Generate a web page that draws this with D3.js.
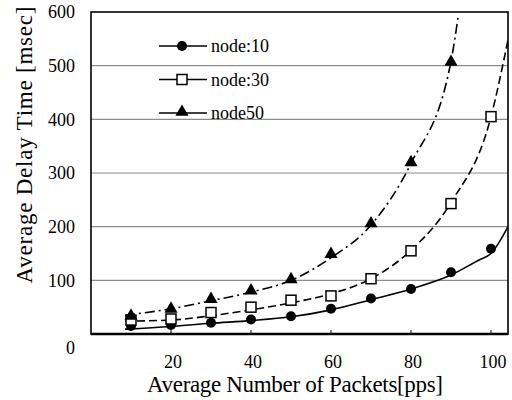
<!DOCTYPE html>
<html>
<head>
<meta charset="utf-8">
<script src="https://cdn.jsdelivr.net/npm/d3@7"></script>
<style>
  body { margin: 0; background: #fff; }
  svg text { font-family: "Liberation Serif", "Times New Roman", serif; fill: #000; }
</style>
</head>
<body>
<div id="chart"></div>
<script>
// Data
const packets = [10, 20, 30, 40, 50, 60, 70, 80, 90, 100];
const node10 = [15, 17, 21, 27, 33, 47, 66, 84, 115, 159];
const node30 = [26, 28, 40, 50, 63, 71, 103, 155, 243, 405];
const node50 = [32, 45, 63, 79, 100, 147, 204, 318, 505];

// Fitted curves drawn in the figure
const curve10X = [8.5, 20, 30, 40, 50, 60, 70, 80, 90, 97, 100, 104.25];
const curve10 = [9, 14, 20, 25, 32, 45, 64, 84, 110, 138, 150, 200];
const curve30X = [8.5, 20, 30, 40, 50, 60, 70, 80, 90, 100, 104.25];
const curve30 = [24, 26, 34, 45, 58, 75, 103, 156, 245, 405, 548];
const curve50X = [8.5, 20, 30, 40, 50, 60, 70, 80, 90, 91.8];
const curve50 = [35, 47, 62, 78, 100, 142, 203, 318, 508, 592];

const yTicks = [0, 100, 200, 300, 400, 500, 600];
const xTicks = [20, 40, 60, 80, 100];

const width = 512;
const height = 400;

const svg = d3.select("#chart")
    .append("svg")
    .attr("width", width)
    .attr("height", height);

const x = d3.scaleLinear().domain([0, 104.25]).range([91, 508]);
const y = d3.scaleLinear().domain([0, 600]).range([334, 12]);

// Grid lines
svg.append("g")
    .selectAll("line")
    .data(yTicks.filter(d => d > 0 && d < 600))
    .enter().append("line")
    .attr("x1", x.range()[0])
    .attr("x2", x.range()[1])
    .attr("y1", d => y(d))
    .attr("y2", d => y(d))
    .style("stroke", "#8c8c8c")
    .style("stroke-width", 1.2);

// Y tick labels
svg.append("g")
    .selectAll("text")
    .data(yTicks)
    .enter().append("text")
    .attr("x", 75)
    .attr("y", d => y(d) + (d === 0 ? 14 : 0))
    .attr("dy", "0.35em")
    .style("text-anchor", "end")
    .style("font-size", "18px")
    .text(d => d);

// X ticks (inside) and labels
svg.append("g")
    .selectAll("line")
    .data(xTicks)
    .enter().append("line")
    .attr("x1", d => x(d))
    .attr("x2", d => x(d))
    .attr("y1", y(0))
    .attr("y2", y(0) - 4)
    .style("stroke", "#000")
    .style("stroke-width", 1);

svg.append("g")
    .selectAll("text")
    .data(xTicks)
    .enter().append("text")
    .attr("x", d => x(d) + 2)
    .attr("y", 362)
    .attr("dy", "0.35em")
    .style("text-anchor", "middle")
    .style("font-size", "18px")
    .text(d => d);

// Axis titles
svg.append("text")
    .attr("x", 295)
    .attr("y", 392)
    .attr("textLength", 296)
    .attr("lengthAdjust", "spacing")
    .style("text-anchor", "middle")
    .style("font-size", "23px")
    .text("Average Number of Packets[pps]");

svg.append("text")
    .attr("transform", "translate(32, 145) rotate(-90)")
    .attr("textLength", 277)
    .attr("lengthAdjust", "spacing")
    .style("text-anchor", "middle")
    .style("font-size", "23px")
    .text("Average Delay Time [msec]");

// Curves
svg.append("clipPath").attr("id", "plot-clip")
    .append("rect")
    .attr("x", x.range()[0]).attr("y", y.range()[1])
    .attr("width", x.range()[1] - x.range()[0])
    .attr("height", y.range()[0] - y.range()[1]);

const line = d3.line()
    .x(d => x(d[0]))
    .y(d => y(d[1]))
    .curve(d3.curveMonotoneX);

const curves = [
    { xs: curve10X, ys: curve10, dash: null },
    { xs: curve30X, ys: curve30, dash: "8,4" },
    { xs: curve50X, ys: curve50, dash: "10,4,2,4" }
];

svg.append("g")
    .attr("clip-path", "url(#plot-clip)")
    .selectAll("path")
    .data(curves)
    .enter().append("path")
    .attr("d", d => line(d.xs.map((v, i) => [v, d.ys[i]])))
    .style("fill", "none")
    .style("stroke", "#000")
    .style("stroke-width", 1.6)
    .style("stroke-dasharray", d => d.dash);

// Markers
const triangle = d3.symbol().type(d3.symbolTriangle).size(75);

function drawMarker(sel, kind) {
    if (kind === "circle") {
        sel.append("circle").attr("r", 5).style("fill", "#000");
    } else if (kind === "square") {
        sel.append("rect")
            .attr("x", -5).attr("y", -5)
            .attr("width", 10).attr("height", 10)
            .style("fill", "#fff")
            .style("stroke", "#000")
            .style("stroke-width", 1.5);
    } else {
        sel.append("path").attr("d", triangle).attr("transform", "translate(0,-1)").style("fill", "#000");
    }
}

const series = [
    { label: "node:10", values: node10, kind: "circle" },
    { label: "node:30", values: node30, kind: "square" },
    { label: "node50", values: node50, kind: "triangle" }
];

series.forEach(s => {
    const g = svg.append("g")
        .selectAll("g")
        .data(s.values)
        .enter().append("g")
        .attr("transform", (d, i) => `translate(${x(packets[i])}, ${y(d)})`);
    drawMarker(g, s.kind);
});

// Plot frame
svg.append("rect")
    .attr("x", x.range()[0])
    .attr("y", y.range()[1])
    .attr("width", x.range()[1] - x.range()[0])
    .attr("height", y.range()[0] - y.range()[1])
    .style("fill", "none")
    .style("stroke", "#000")
    .style("stroke-width", 1.6);

svg.append("line")
    .attr("x1", x.range()[0]).attr("x2", x.range()[1])
    .attr("y1", y(0)).attr("y2", y(0))
    .style("stroke", "#000")
    .style("stroke-width", 2.4);

// Legend
const legend = svg.append("g")
    .selectAll("g")
    .data(series)
    .enter().append("g")
    .attr("transform", (d, i) => `translate(0, ${46 + i * 33.5})`);

legend.append("line")
    .attr("x1", 159).attr("x2", 207)
    .attr("y1", 0).attr("y2", 0)
    .style("stroke", "#000")
    .style("stroke-width", 1.6);

legend.each(function (d) {
    const m = d3.select(this).append("g").attr("transform", "translate(182, 0)");
    drawMarker(m, d.kind);
});

legend.append("text")
    .attr("x", 211)
    .attr("y", 0)
    .attr("dy", "0.35em")
    .style("font-size", "18px")
    .text(d => d.label);
</script>
</body>
</html>
